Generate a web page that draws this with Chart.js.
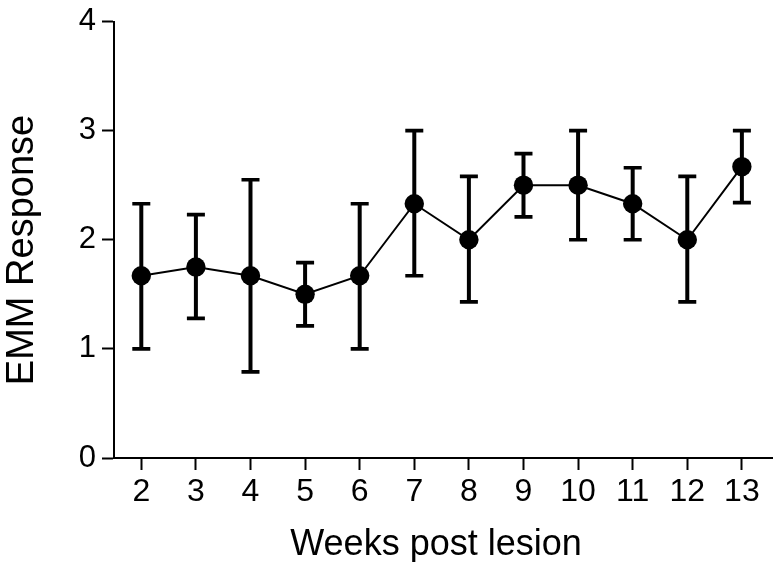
<!DOCTYPE html>
<html>
<head>
<meta charset="utf-8">
<script src="https://cdn.jsdelivr.net/npm/chart.js@4/dist/chart.umd.min.js"></script>
<style>
  html, body { margin: 0; padding: 0; background: #ffffff; }
  #wrap { width: 773px; height: 562px; position: relative; }
</style>
</head>
<body>
<div id="wrap"><canvas id="c" width="773" height="562"></canvas></div>
<script>
const weeks = [2, 3, 4, 5, 6, 7, 8, 9, 10, 11, 12, 13];
const meanResponse = [1.67, 1.75, 1.67, 1.50, 1.67, 2.33, 2.00, 2.50, 2.50, 2.33, 2.00, 2.67];
const errLower = [1.00, 1.28, 0.79, 1.21, 1.00, 1.67, 1.43, 2.21, 2.00, 2.00, 1.43, 2.34];
const errUpper = [2.33, 2.23, 2.55, 1.79, 2.33, 3.00, 2.58, 2.79, 3.00, 2.66, 2.58, 3.00];
const yTicks = [0, 1, 2, 3, 4];
const xTitle = 'Weeks post lesion';
const yTitle = 'EMM Response';

const FONT = '"Liberation Sans", Arial, Helvetica, sans-serif';

const errorBars = {
  id: 'errorBars',
  beforeDatasetsDraw(chart) {
    const { ctx, scales: { x, y } } = chart;
    ctx.save();
    ctx.strokeStyle = '#000';
    ctx.lineCap = 'butt';
    weeks.forEach((w, i) => {
      const px = x.getPixelForValue(w);
      const pLo = y.getPixelForValue(errLower[i]);
      const pHi = y.getPixelForValue(errUpper[i]);
      ctx.lineWidth = 4;
      ctx.beginPath();
      ctx.moveTo(px, pLo);
      ctx.lineTo(px, pHi);
      ctx.stroke();
      ctx.lineWidth = 3.7;
      ctx.beginPath();
      ctx.moveTo(px - 9, pLo); ctx.lineTo(px + 9, pLo);
      ctx.moveTo(px - 9, pHi); ctx.lineTo(px + 9, pHi);
      ctx.stroke();
    });
    ctx.restore();
  }
};

const axisTitles = {
  id: 'axisTitles',
  afterDraw(chart) {
    const { ctx } = chart;
    ctx.save();
    ctx.fillStyle = '#000';
    ctx.textAlign = 'center';
    ctx.textBaseline = 'alphabetic';
    ctx.font = '36px ' + FONT;
    ctx.fillText(xTitle, 436, 555);
    ctx.font = '38px ' + FONT;
    ctx.translate(33, 250);
    ctx.rotate(-Math.PI / 2);
    ctx.fillText(yTitle, 0, 0);
    ctx.restore();
  }
};

new Chart(document.getElementById('c'), {
  type: 'line',
  data: {
    datasets: [{
      data: weeks.map((w, i) => ({ x: w, y: meanResponse[i] })),
      borderColor: '#000',
      backgroundColor: '#000',
      borderWidth: 2,
      pointRadius: 9.7,
      pointBorderWidth: 0,
      pointBackgroundColor: '#000',
      tension: 0,
      fill: false,
      clip: false
    }]
  },
  options: {
    responsive: false,
    animation: false,
    devicePixelRatio: 1,
    layout: { autoPadding: false, padding: { top: 20, right: 0, left: 0, bottom: 0 } },
    plugins: { legend: { display: false }, tooltip: { enabled: false } },
    scales: {
      x: {
        type: 'linear',
        min: 1.5,
        max: 13.57,
        afterBuildTicks(scale) { scale.ticks = weeks.map(v => ({ value: v })); },
        afterFit(scale) { scale.height = 104; scale.paddingRight = 0; scale.paddingLeft = 0; },
        border: { display: true, color: '#000', width: 2 },
        grid: { drawOnChartArea: false, drawTicks: true, tickLength: 12, color: '#000', tickColor: '#000', tickWidth: 2 },
        ticks: { color: '#000', font: { family: FONT, size: 32 }, padding: 3, autoSkip: false, maxRotation: 0 }
      },
      y: {
        type: 'linear',
        min: 0,
        max: 4,
        afterBuildTicks(scale) { scale.ticks = yTicks.map(v => ({ value: v })); },
        afterFit(scale) { scale.width = 114; },
        border: { display: true, color: '#000', width: 2 },
        grid: { drawOnChartArea: false, drawTicks: true, tickLength: 12, color: '#000', tickColor: '#000', tickWidth: 2 },
        ticks: { color: '#000', font: { family: FONT, size: 31, lineHeight: 1 }, padding: 6 }
      }
    }
  },
  plugins: [errorBars, axisTitles]
});
</script>
</body>
</html>
